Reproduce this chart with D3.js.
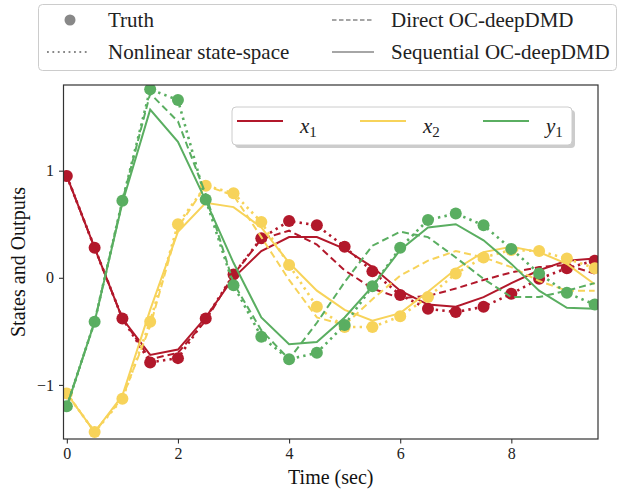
<!DOCTYPE html>
<html>
<head>
<meta charset="utf-8">
<script src="https://cdn.jsdelivr.net/npm/d3@7"></script>
<style>
  body { margin: 0; background: #fff; }
  text { font-family: "Liberation Serif", "Times New Roman", serif; }
</style>
</head>
<body>
<div id="my_dataviz"></div>
<script>
// time samples (sec)
var times = [0, 0.5, 1, 1.5, 2, 2.5, 3, 3.5, 4, 4.5, 5, 5.5, 6, 6.5, 7, 7.5, 8, 8.5, 9, 9.5];

// x1
var x1Truth      = [0.95, 0.28, -0.38, -0.79, -0.75, -0.38, 0.03, 0.37, 0.53, 0.49, 0.29, 0.06, -0.16, -0.29, -0.32, -0.27, -0.15, -0.01, 0.09, 0.16];
var x1Nonlinear  = [0.95, 0.28, -0.38, -0.79, -0.75, -0.38, 0.03, 0.37, 0.53, 0.49, 0.29, 0.06, -0.16, -0.29, -0.32, -0.27, -0.15, -0.01, 0.09, 0.16];
var x1Direct     = [0.95, 0.28, -0.38, -0.76, -0.70, -0.40, 0.03, 0.36, 0.44, 0.31, 0.07, -0.10, -0.19, -0.17, -0.10, -0.02, 0.05, 0.10, 0.12, 0.04];
var x1Sequential = [0.95, 0.28, -0.38, -0.72, -0.67, -0.37, 0.00, 0.25, 0.38, 0.38, 0.27, 0.10, -0.12, -0.25, -0.27, -0.18, -0.05, 0.07, 0.16, 0.18];

// x2
var x2Truth      = [-1.08, -1.44, -1.13, -0.41, 0.50, 0.86, 0.79, 0.52, 0.12, -0.27, -0.46, -0.46, -0.36, -0.18, 0.04, 0.19, 0.26, 0.25, 0.18, 0.09];
var x2Nonlinear  = [-1.08, -1.44, -1.13, -0.41, 0.50, 0.86, 0.79, 0.52, 0.12, -0.27, -0.46, -0.46, -0.36, -0.18, 0.04, 0.19, 0.26, 0.25, 0.18, 0.09];
var x2Direct     = [-1.08, -1.44, -1.12, -0.45, 0.47, 0.86, 0.77, 0.38, -0.02, -0.37, -0.44, -0.20, 0.02, 0.16, 0.25, 0.19, 0.10, -0.03, -0.12, -0.12];
var x2Sequential = [-1.08, -1.44, -1.10, -0.30, 0.43, 0.70, 0.66, 0.47, 0.14, -0.12, -0.30, -0.40, -0.33, -0.13, 0.08, 0.24, 0.29, 0.24, 0.13, -0.06];

// y1
var y1Truth      = [-1.20, -0.41, 0.72, 1.76, 1.66, 0.73, -0.07, -0.55, -0.76, -0.70, -0.44, -0.08, 0.28, 0.54, 0.60, 0.49, 0.27, 0.04, -0.14, -0.25];
var y1Nonlinear  = [-1.20, -0.41, 0.72, 1.76, 1.66, 0.73, -0.07, -0.55, -0.76, -0.70, -0.44, -0.08, 0.28, 0.54, 0.60, 0.49, 0.27, 0.04, -0.14, -0.25];
var y1Direct     = [-1.20, -0.41, 0.72, 1.72, 1.46, 0.78, -0.05, -0.49, -0.76, -0.42, -0.04, 0.30, 0.43, 0.38, 0.19, -0.01, -0.18, -0.18, -0.12, -0.05];
var y1Sequential = [-1.20, -0.41, 0.70, 1.57, 1.27, 0.72, 0.14, -0.37, -0.62, -0.60, -0.37, -0.08, 0.26, 0.47, 0.50, 0.35, 0.13, -0.12, -0.28, -0.29];

var xTicks = [0, 2, 4, 6, 8];
var yTicks = [-1, 0, 1];
var seriesNames = ["x", "x", "y"];
var seriesSubs = ["1", "2", "1"];
var colors = ["#b2182b", "#f7d35a", "#5aae61"];
var styleNames = ["Truth", "Nonlinear state-space", "Direct OC-deepDMD", "Sequential OC-deepDMD"];

// set the dimensions and margins of the graph
var W = 627, H = 489;
var margin = {top: 85, right: 29, bottom: 50, left: 63.5},
    width = W - margin.left - margin.right,
    height = H - margin.top - margin.bottom;

var svg = d3.select("#my_dataviz")
  .append("svg")
    .attr("width", W)
    .attr("height", H);

var g = svg.append("g")
    .attr("transform", "translate(" + margin.left + "," + margin.top + ")");

var x = d3.scaleLinear().domain([-0.06, 9.56]).range([0, width]);
var y = d3.scaleLinear().domain([-1.505, 1.80]).range([height, 0]);

// axes
var xAxis = g.append("g")
  .attr("transform", "translate(0," + height + ")")
  .call(d3.axisBottom(x).tickValues(xTicks).tickFormat(d3.format("d")).tickSize(4.5).tickPadding(4));
var yAxis = g.append("g")
  .call(d3.axisLeft(y).tickValues(yTicks).tickFormat(function(d) { return d < 0 ? "\u2212" + Math.abs(d) : d; }).tickSize(4.5).tickPadding(5));
[xAxis, yAxis].forEach(function(a) {
  a.select(".domain").remove();
  a.selectAll("line").attr("stroke", "#333").attr("stroke-width", 1.1);
  a.selectAll("text").attr("font-family", "Liberation Serif").attr("font-size", 16).attr("fill", "#222");
});

var clip = g.append("clipPath").attr("id", "clip")
  .append("rect").attr("width", width).attr("height", height);
var plot = g.append("g").attr("clip-path", "url(#clip)");

var line = d3.line()
  .x(function(d, i) { return x(times[i]); })
  .y(function(d) { return y(d); });

var dashes = {solid: null, dashed: "7,4", dotted: "2.4,4.2"};

function drawLine(vals, color, kind) {
  plot.append("path")
    .datum(vals)
    .attr("fill", "none")
    .attr("stroke", color)
    .attr("stroke-width", kind === "dotted" ? 2.6 : 2)
    .attr("stroke-dasharray", dashes[kind])
    .attr("d", line);
}

var truth = [x1Truth, x2Truth, y1Truth];
var nonlin = [x1Nonlinear, x2Nonlinear, y1Nonlinear];
var direct = [x1Direct, x2Direct, y1Direct];
var seq = [x1Sequential, x2Sequential, y1Sequential];

for (var k = 0; k < 3; k++) {
  plot.selectAll(".pt" + k)
    .data(truth[k])
    .enter().append("circle")
      .attr("cx", function(d, i) { return x(times[i]); })
      .attr("cy", function(d) { return y(d); })
      .attr("r", 6)
      .attr("fill", colors[k]);
  drawLine(nonlin[k], colors[k], "dotted");
  drawLine(direct[k], colors[k], "dashed");
  drawLine(seq[k], colors[k], "solid");
}

// frame
g.append("rect")
  .attr("width", width).attr("height", height)
  .attr("fill", "none").attr("stroke", "#333").attr("stroke-width", 1.2);

// axis labels
svg.append("text")
  .attr("x", margin.left + width / 2).attr("y", 484)
  .attr("text-anchor", "middle").attr("font-size", 20).attr("fill", "#111")
  .text("Time (sec)");
svg.append("text")
  .attr("transform", "translate(25," + (margin.top + height / 2) + ") rotate(-90)")
  .attr("text-anchor", "middle").attr("font-size", 20).attr("fill", "#111")
  .text("States and Outputs");

// inner legend (series colours)
var lg = g.append("g").attr("transform", "translate(" + (232 - margin.left) + "," + (107 - margin.top) + ")");
lg.append("rect").attr("x", 3).attr("y", 3).attr("width", 340).attr("height", 38).attr("rx", 4)
  .attr("fill", "#aaa").attr("opacity", 0.6);
lg.append("rect").attr("width", 340).attr("height", 38).attr("rx", 4)
  .attr("fill", "#fff").attr("stroke", "#ccc");
colors.forEach(function(c, i) {
  var ox = 5 + i * 123;
  lg.append("line").attr("x1", ox).attr("x2", ox + 46).attr("y1", 14).attr("y2", 14)
    .attr("stroke", c).attr("stroke-width", 2);
  var t = lg.append("text").attr("x", ox + 63).attr("y", 26)
    .attr("font-family", "Liberation Serif").attr("font-size", 21).attr("fill", "#222");
  t.append("tspan").attr("font-style", "italic").text(seriesNames[i]);
  t.append("tspan").attr("font-size", 15).attr("dy", 4).text(seriesSubs[i]);
});

// top legend (line styles)
var tl = svg.append("g");
tl.append("rect").attr("x", 38.5).attr("y", 4.5).attr("width", 578).attr("height", 66).attr("rx", 4)
  .attr("fill", "#fff").attr("stroke", "#ccc");
var gray = "#888";
var legendPos = [[70, 20], [68, 52], [353, 20], [353, 52]];
var legendKinds = ["marker", "dotted", "dashed", "solid"];
styleNames.forEach(function(name, i) {
  var p = legendPos[i];
  if (legendKinds[i] === "marker") {
    tl.append("circle").attr("cx", p[0]).attr("cy", p[1]).attr("r", 5.5).attr("fill", gray);
  } else {
    tl.append("line").attr("x1", p[0] - 21).attr("x2", p[0] + 21).attr("y1", p[1]).attr("y2", p[1])
      .attr("stroke", gray).attr("stroke-width", legendKinds[i] === "dotted" ? 2 : 1.3)
      .attr("stroke-dasharray", legendKinds[i] === "dotted" ? "1.8,3.6" : (legendKinds[i] === "dashed" ? "4.5,2.5" : null));
  }
  tl.append("text").attr("x", legendKinds[i] === "dotted" ? 108 : p[0] + 38).attr("y", p[1] + 7)
    .attr("font-size", 21).attr("fill", "#222").text(name);
});
</script>
</body>
</html>
